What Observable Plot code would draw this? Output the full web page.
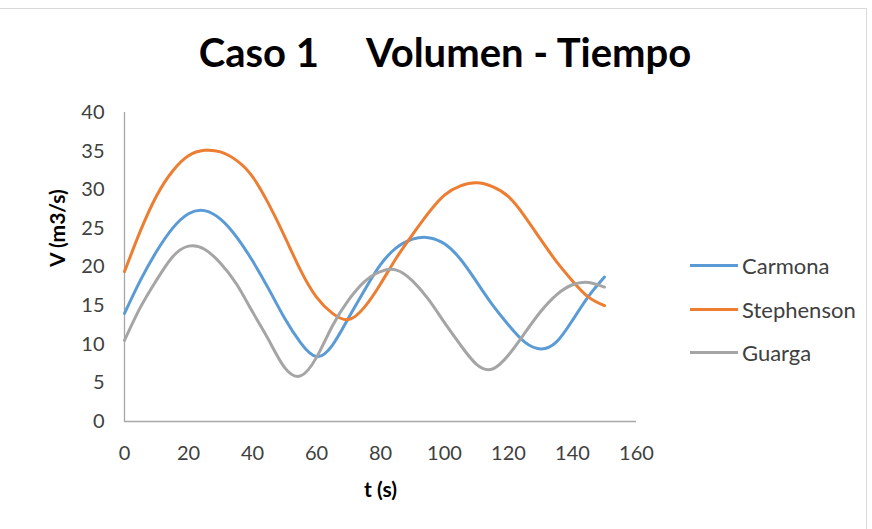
<!DOCTYPE html>
<html>
<head>
<meta charset="utf-8">
<script src="https://cdn.jsdelivr.net/npm/d3@7"></script>
<script src="https://cdn.jsdelivr.net/npm/@observablehq/plot@0.6"></script>
<style>
  html, body { margin: 0; padding: 0; background: #fff; }
  #wrap { position: relative; width: 872px; height: 529px; overflow: hidden; font-family: Lato, "Open Sans", sans-serif; }
  #frame { position: absolute; left: -2px; top: 8px; width: 869px; height: 540px; border: 1px solid #d9d9d9; box-sizing: border-box; }
  #title { position: absolute; left: 0; width: 890px; top: 28px; text-align: center; font-weight: bold; font-size: 40px; color: #000; white-space: pre; }
  #chart { position: absolute; left: 0; top: 0; }
  #legend { position: absolute; left: 690px; top: 244px; font-size: 22px; color: #404040; }
  .item { display: flex; align-items: center; height: 43.5px; }
  .sw { width: 48px; height: 3px; margin-right: 4px; }
</style>
</head>
<body>
<div id="wrap">
  <div id="frame"></div>
  <div id="chart"></div>
  <div id="title"></div>
  <div id="legend"></div>
</div>
<script>
const titleText = "Caso 1     Volumen - Tiempo";
const xLabel = "t (s)";
const yLabel = "V (m3/s)";
const seriesNames = ["Carmona", "Stephenson", "Guarga"];
const seriesColors = ["#5B9BD5", "#ED7D31", "#A5A5A5"];
const xTicks = [0, 20, 40, 60, 80, 100, 120, 140, 160];
const yTicks = [0, 5, 10, 15, 20, 25, 30, 35, 40];

const t = [0,5,10,15,20,25,30,35,40,45,50,55,60,65,70,75,80,85,90,95,100,105,110,115,120,125,130,135,140,145,150];
const carmona = [14.0,18.3,22.0,25.0,26.9,27.3,26.2,23.9,20.8,17.2,13.4,10.2,8.4,9.9,13.4,17.0,20.3,22.5,23.6,23.8,23.0,21.0,18.1,15.1,12.5,10.3,9.4,10.3,13.1,16.2,18.7];
const stephenson = [19.4,24.7,29.2,32.4,34.4,35.1,34.9,33.8,31.7,28.2,24.0,19.6,16.1,14.0,13.2,14.8,17.8,21.2,24.2,27.0,29.3,30.5,30.9,30.4,29.1,26.6,23.6,20.7,18.2,16.1,15.0];
const guarga = [10.5,14.8,18.3,21.3,22.7,22.3,20.5,17.8,14.2,10.6,7.0,5.9,8.3,12.4,15.7,18.1,19.4,19.6,18.2,15.8,12.8,9.9,7.4,6.8,8.6,11.4,14.2,16.4,17.7,18.0,17.4];

const seriesValues = [carmona, stephenson, guarga];
const rows = [];
seriesNames.forEach((name, i) => {
  t.forEach((tv, j) => rows.push({ series: name, t: tv, v: seriesValues[i][j] }));
});

document.getElementById("title").textContent = titleText;

const plot = Plot.plot({
  width: 872,
  height: 529,
  marginLeft: 124,
  marginRight: 236,
  marginTop: 112,
  marginBottom: 108,
  style: { fontFamily: "Lato, 'Open Sans', sans-serif", fontSize: "20px", color: "#404040", background: "transparent" },
  x: { domain: [0, 160], ticks: xTicks, tickSize: 0, tickPadding: 24, label: null },
  y: { domain: [0, 40], ticks: yTicks, tickSize: 0, tickPadding: 20, label: null },
  color: { domain: seriesNames, range: seriesColors },
  marks: [
    Plot.ruleX([0], { stroke: "#a6a6a6", strokeWidth: 1.3 }),
    Plot.ruleY([0], { stroke: "#a6a6a6", strokeWidth: 1.3 }),
    Plot.axisX({ ticks: xTicks, tickSize: 0, tickPadding: 24, fill: "#404040", label: null }),
    Plot.axisY({ ticks: yTicks, tickSize: 0, tickPadding: 20, fill: "#404040", label: null }),
    Plot.line(rows, { x: "t", y: "v", z: "series", stroke: "series", strokeWidth: 3, curve: "natural" }),
    Plot.text([xLabel], { frameAnchor: "bottom", dy: 75, fontWeight: "bold", fontSize: 21, fill: "#000", text: d => d }),
    Plot.text([yLabel], { frameAnchor: "left", dx: -66, rotate: -90, fontWeight: "bold", fontSize: 21, fill: "#000", text: d => d })
  ]
});
document.getElementById("chart").appendChild(plot);

const legend = document.getElementById("legend");
seriesNames.forEach((name, i) => {
  const it = document.createElement("div");
  it.className = "item";
  const sw = document.createElement("div");
  sw.className = "sw";
  sw.style.background = seriesColors[i];
  const lb = document.createElement("span");
  lb.textContent = name;
  it.appendChild(sw);
  it.appendChild(lb);
  legend.appendChild(it);
});
</script>
</body>
</html>
